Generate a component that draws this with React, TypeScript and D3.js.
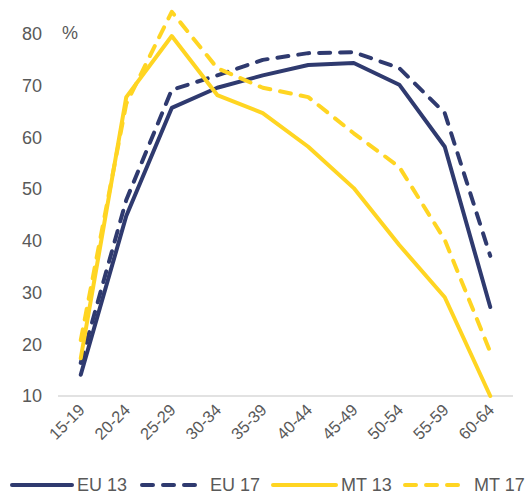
import React from "react";
import * as d3 from "d3";

const categories = ["15-19","20-24","25-29","30-34","35-39","40-44","45-49","50-54","55-59","60-64"];
const eu13 = [14.1, 44.8, 65.7, 69.6, 72.0, 74.0, 74.4, 70.2, 58.2, 27.2];
const eu17 = [16.4, 47.9, 69.2, 72.0, 75.0, 76.3, 76.5, 73.4, 64.7, 37.1];
const mt13 = [17.3, 67.8, 79.6, 68.2, 64.7, 58.2, 50.2, 39.2, 29.1, 10.0];
const mt17 = [20.8, 66.5, 84.3, 73.4, 69.6, 67.8, 60.8, 54.3, 40.2, 18.5];
const yTicks = [10, 20, 30, 40, 50, 60, 70, 80];

const NAVY = "#2F3A6F";
const YELLOW = "#FFD522";
const TEXT = "#595959";

const series = [
  { name: "EU 13", values: eu13, color: NAVY, dash: "" },
  { name: "EU 17", values: eu17, color: NAVY, dash: "11 10" },
  { name: "MT 13", values: mt13, color: YELLOW, dash: "" },
  { name: "MT 17", values: mt17, color: YELLOW, dash: "11 10" },
];

export default function App() {
  const W = 529, H = 496;
  const x = d3.scaleBand<string>().domain(categories).range([58, 513]).padding(0);
  const y = d3.scaleLinear().domain([10, 80]).range([396, 34]);
  const line = d3
    .line<number>()
    .x((_, i) => (x(categories[i]) as number) + x.bandwidth() / 2)
    .y((d) => y(d));
  const font = "'Liberation Sans', Arial, sans-serif";
  const legendItems = [
    { lx: 12, x2: 72, tx: 77 },
    { lx: 142, x2: 196, tx: 210 },
    { lx: 273, x2: 336, tx: 341 },
    { lx: 405, x2: 460, tx: 474 },
  ];
  return (
    <svg width={W} height={H} style={{ position: "absolute", left: 0, top: 0 }} fontFamily={font}>
      <rect width={W} height={H} fill="#fff" />
      <line x1={58} x2={513} y1={y(10)} y2={y(10)} stroke="#D9D9D9" strokeWidth={1.5} />
      {yTicks.map((t) => (
        <text key={t} x={42} y={y(t)} dy="0.35em" textAnchor="end" fontSize={18} fill={TEXT}>
          {t}
        </text>
      ))}
      <text x={62} y={y(80)} dy="0.3em" fontSize={18} fill={TEXT}>%</text>
      {categories.map((c) => {
        const cx = (x(c) as number) + x.bandwidth() / 2 + 5;
        const cy = 411;
        return (
          <text key={c} x={cx} y={cy} transform={`rotate(-45 ${cx} ${cy})`} textAnchor="end" fontSize={16.5} fill={TEXT}>
            {c}
          </text>
        );
      })}
      {series.map((s) => (
        <path
          key={s.name}
          d={line(s.values) || ""}
          fill="none"
          stroke={s.color}
          strokeWidth={4}
          strokeDasharray={s.dash || undefined}
          strokeLinecap="round"
          strokeLinejoin="round"
        />
      ))}
      {series.map((s, i) => (
        <g key={s.name}>
          <line
            x1={legendItems[i].lx}
            x2={legendItems[i].x2}
            y1={485}
            y2={485}
            stroke={s.color}
            strokeWidth={4}
            strokeDasharray={s.dash || undefined}
            strokeLinecap="round"
          />
          <text x={legendItems[i].tx} y={485} dy="0.35em" fontSize={18} fill={TEXT}>
            {s.name}
          </text>
        </g>
      ))}
    </svg>
  );
}
